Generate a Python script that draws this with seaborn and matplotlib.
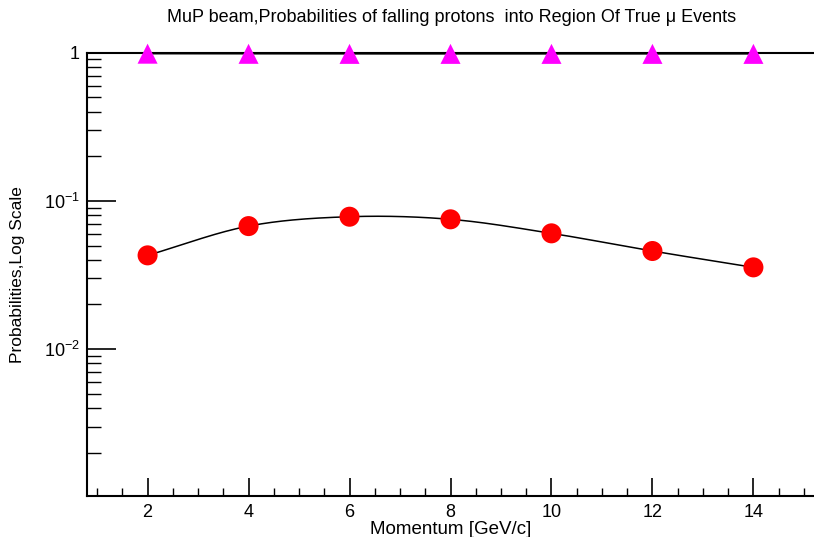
import numpy as np
import pandas as pd
import matplotlib
matplotlib.use("Agg")
import matplotlib.pyplot as plt
import matplotlib.ticker as mticker
import seaborn as sns

# ---- data ----
momentum = [2, 4, 6, 8, 10, 12, 14]
prob_true_mu = [0.0429, 0.0676, 0.0782, 0.0751, 0.0604, 0.0459, 0.0356]
prob_other = [0.985, 0.983, 0.982, 0.982, 0.982, 0.982, 0.982]

title = "MuP beam,Probabilities of falling protons  into Region Of True \u03bc Events"
xlabel = "Momentum [GeV/c]"
ylabel = "Probabilities,Log Scale"

sns.set_style("white")
plt.rcParams["font.family"] = ["Liberation Sans", "DejaVu Sans"]
plt.rcParams["mathtext.fontset"] = "custom"
plt.rcParams["mathtext.rm"] = "Liberation Sans"
plt.rcParams["mathtext.it"] = "Liberation Sans:italic"
for key in ("text.color", "axes.labelcolor", "xtick.color", "ytick.color"):
    plt.rcParams[key] = "black"

df = pd.DataFrame({"p": momentum, "low": prob_true_mu, "high": prob_other})


def smooth(xs, ys, n=40):
    """Catmull-Rom curve through the points in (x, log y) space for drawing."""
    xs = np.asarray(xs, float)
    ly = np.log10(np.asarray(ys, float))
    px = np.concatenate([[2 * xs[0] - xs[1]], xs, [2 * xs[-1] - xs[-2]]])
    py = np.concatenate([[2 * ly[0] - ly[1]], ly, [2 * ly[-1] - ly[-2]]])
    ox, oy = [], []
    t = np.linspace(0, 1, n)
    for i in range(1, len(px) - 2):
        for arr, out in ((px, ox), (py, oy)):
            p0, p1, p2, p3 = arr[i - 1], arr[i], arr[i + 1], arr[i + 2]
            out.extend(0.5 * ((2 * p1) + (-p0 + p2) * t
                              + (2 * p0 - 5 * p1 + 4 * p2 - p3) * t ** 2
                              + (-p0 + 3 * p1 - 3 * p2 + p3) * t ** 3))
    return np.array(ox), 10 ** np.array(oy)


fig = plt.figure(figsize=(8.14, 5.37), dpi=100)
ax = fig.add_axes([87 / 814, 1 - 496 / 537, 1 - 87 / 814, (496 - 52.7) / 537])

cx, cy = smooth(df["p"], df["low"])
sns.lineplot(x=cx, y=cy, ax=ax, color="black", lw=1.1, sort=False, estimator=None)
hx, hy = smooth(df["p"], df["high"])
sns.lineplot(x=hx, y=hy, ax=ax, color="black", lw=1.1, sort=False, estimator=None)

sns.scatterplot(data=df, x="p", y="low", ax=ax, marker="o", s=20 * 20 * 0.52,
                color="#ff0000", edgecolor="none", zorder=5, clip_on=False)
sns.scatterplot(data=df, x="p", y="high", ax=ax, marker="^", s=20 * 20 * 0.52,
                color="#ff00ff", edgecolor="none", zorder=5, clip_on=False)

ax.set_yscale("log")
ax.set_xlim(0.8, 15.2)
ax.set_ylim(1.02e-3, 1.0)

ax.xaxis.set_major_locator(mticker.MultipleLocator(2))
ax.xaxis.set_minor_locator(mticker.MultipleLocator(0.5))
ax.yaxis.set_major_locator(mticker.LogLocator(base=10, numticks=10))
ax.yaxis.set_minor_locator(mticker.LogLocator(base=10, subs=np.arange(2, 10), numticks=20))


def yfmt(v, pos):
    e = int(round(np.log10(v)))
    if e == 0:
        return "1"
    return r"$10^{%d}$" % e


ax.yaxis.set_major_formatter(mticker.FuncFormatter(yfmt))
ax.yaxis.set_minor_formatter(mticker.NullFormatter())

ax.tick_params(axis="x", which="major", direction="in", length=13, width=1.2,
               labelsize=13, pad=6, bottom=True, top=False, color="black")
ax.tick_params(axis="x", which="minor", direction="in", length=6, width=1.0,
               bottom=True, top=False, color="black")
ax.tick_params(axis="y", which="major", direction="in", length=21, width=1.2,
               labelsize=13, pad=5, left=True, right=False, color="black")
ax.tick_params(axis="y", which="minor", direction="in", length=10, width=1.0,
               left=True, right=False, color="black")

for side in ("left", "bottom", "top"):
    ax.spines[side].set_visible(True)
    ax.spines[side].set_color("black")
    ax.spines[side].set_linewidth(1.5)
ax.spines["right"].set_visible(False)

ax.set_xlabel(xlabel, fontsize=13.5, labelpad=0)
ax.set_ylabel(ylabel, fontsize=12.5, labelpad=14)
fig.text(0.555, 0.968, title, ha="center", va="center", fontsize=13)

fig.savefig("out.png", dpi=100, facecolor="white")
